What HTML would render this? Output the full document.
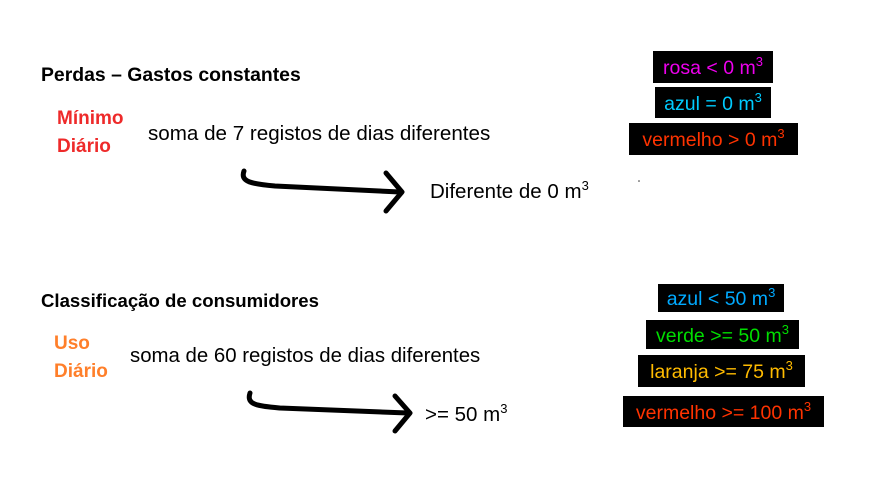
<!DOCTYPE html>
<html><head><meta charset="utf-8"><style>
body{margin:0;width:873px;height:502px;background:#fff;position:relative;overflow:hidden;font-family:"Liberation Sans","DejaVu Sans",sans-serif}
.t{position:absolute;white-space:nowrap;line-height:1}
.b{font-weight:bold}
.box{position:absolute;background:#000;white-space:nowrap;font-size:19.5px;line-height:1;display:flex;align-items:center;justify-content:center;box-sizing:border-box;padding-top:4px}
sup{font-size:13px;vertical-align:8px;line-height:0}
</style></head><body>
<div class="t b" style="left:41px;top:66px;font-size:19.4px">Perdas – Gastos constantes</div>
<div class="t b" style="left:57px;top:105px;font-size:19px;color:#ee2a2a;line-height:28px">Mínimo<br>Diário</div>
<div class="t" style="left:148px;top:124px;font-size:20.6px">soma de 7 registos de dias diferentes</div>
<div class="t" style="left:430px;top:182px;font-size:20.5px">Diferente de 0 m<sup>3</sup></div>

<div class="t b" style="left:41px;top:292px;font-size:18.6px">Classificação de consumidores</div>
<div class="t b" style="left:54px;top:330px;font-size:19px;color:#ff7f2a;line-height:28px">Uso<br>Diário</div>
<div class="t" style="left:130px;top:346px;font-size:20.4px">soma de 60 registos de dias diferentes</div>
<div class="t" style="left:425px;top:405px;font-size:20.5px">&gt;= 50 m<sup>3</sup></div>

<svg style="position:absolute;left:0;top:0" width="873" height="502">
<g fill="none" stroke="#000" stroke-width="5" stroke-linecap="round" stroke-linejoin="round">
<path d="M244,171 C240,182 252,184 275,186 L400,192"/>
<path d="M386,173 L402,192 L386,211"/>
<path d="M250,393 C246,405 258,406 280,408 L408,413"/>
<path d="M395,396 L410,413 L395,431"/>
</g>
<circle cx="639" cy="181" r="0.8" fill="#333"/>
</svg>

<div class="box" style="left:653px;top:51px;width:120px;height:32px;color:#ee00ee"><span>rosa &lt; 0 m<sup>3</sup></span></div>
<div class="box" style="left:655px;top:87px;width:116px;height:31px;color:#00ccff"><span>azul = 0 m<sup>3</sup></span></div>
<div class="box" style="left:629px;top:123px;width:169px;height:32px;color:#ff3300"><span>vermelho &gt; 0 m<sup>3</sup></span></div>

<div class="box" style="left:658px;top:284px;width:126px;height:28px;color:#00aaff"><span>azul &lt; 50 m<sup>3</sup></span></div>
<div class="box" style="left:646px;top:320px;width:153px;height:29px;color:#00dd00"><span>verde &gt;= 50 m<sup>3</sup></span></div>
<div class="box" style="left:638px;top:355px;width:167px;height:32px;color:#ffbb00"><span>laranja &gt;= 75 m<sup>3</sup></span></div>
<div class="box" style="left:623px;top:396px;width:201px;height:31px;color:#ff3300"><span>vermelho &gt;= 100 m<sup>3</sup></span></div>
</body></html>
